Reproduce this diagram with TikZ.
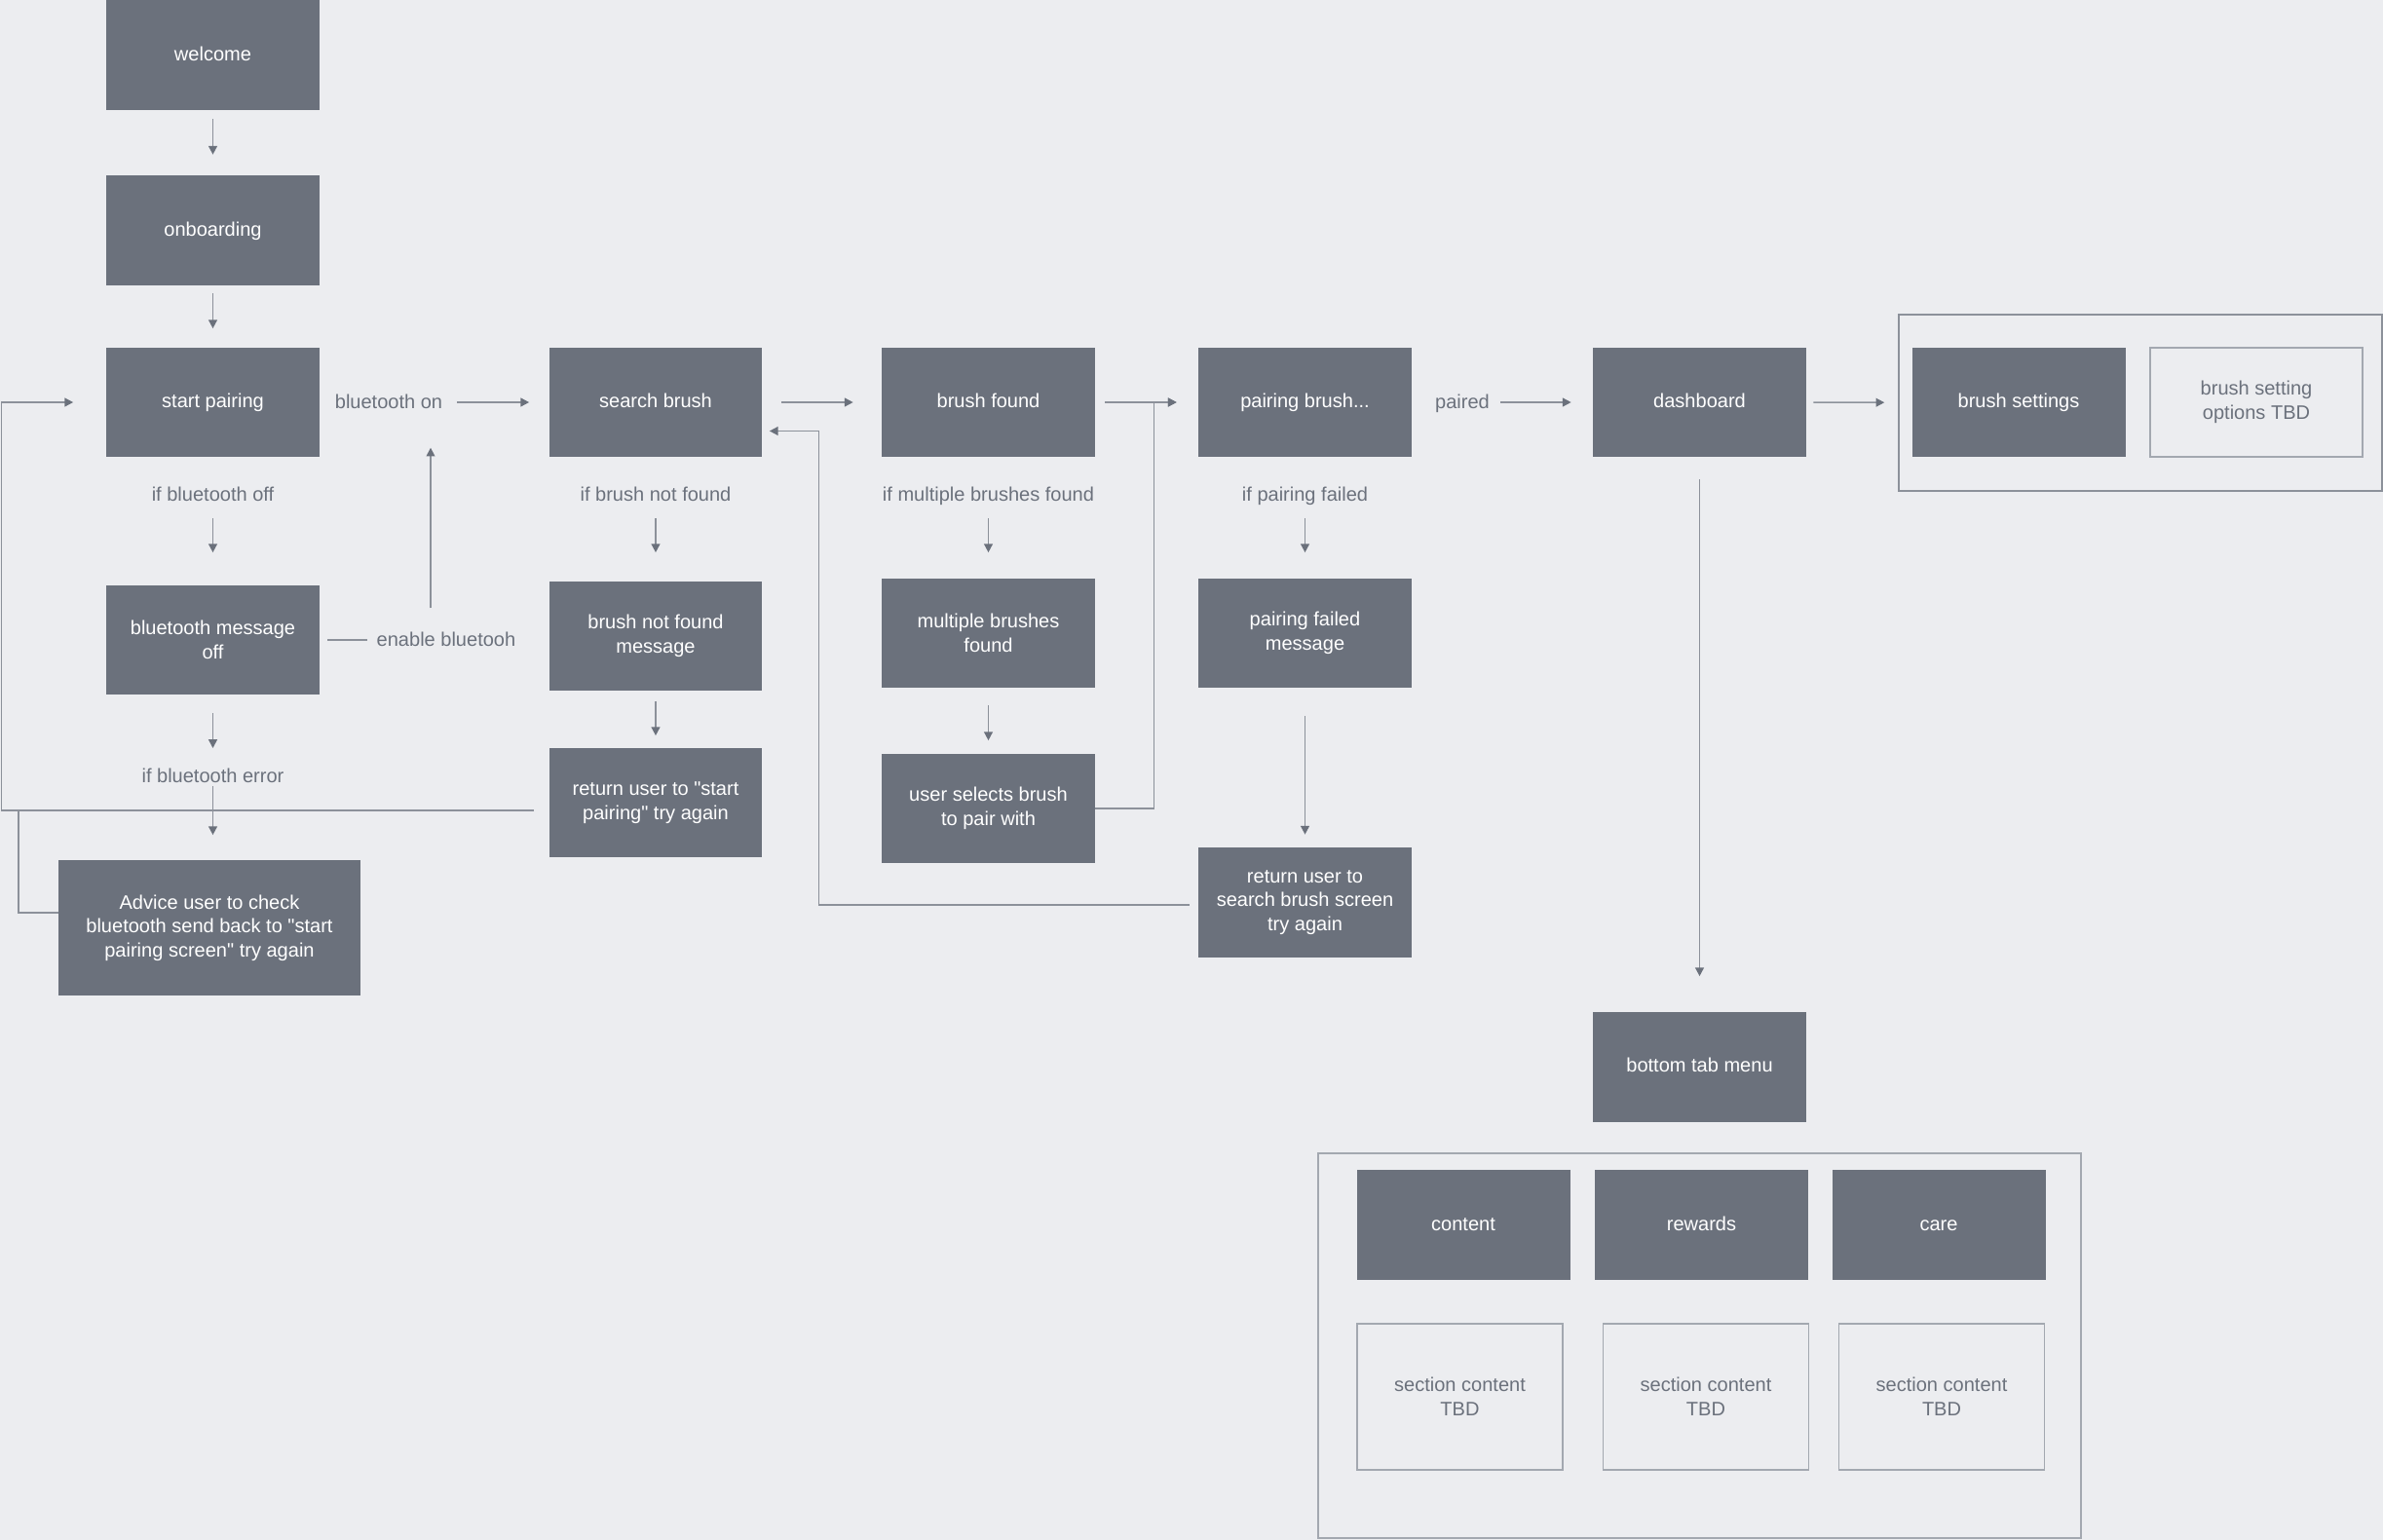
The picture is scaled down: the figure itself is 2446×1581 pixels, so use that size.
\documentclass[tikz,border=0pt]{standalone}
\usepackage{fontspec}
\setmainfont{Liberation Sans}
\usepackage{xcolor}
\usetikzlibrary{arrows.meta}
\definecolor{scrgray}{HTML}{6B717C}
\definecolor{bggray}{HTML}{ECEDF0}
\definecolor{linegray}{HTML}{8C919A}
\definecolor{outlinegray}{HTML}{A3A8B0}

\begin{document}
\begin{tikzpicture}[
    x=0.02cm, y=-0.02cm,
    font=\fontsize{11.4}{14}\selectfont,
    scr/.style={rectangle, fill=scrgray, text=white, minimum width=4.38cm, minimum height=2.26cm, align=center, inner sep=0pt},
    tline/.style={text height=0.85em, text depth=0.2em},
    tbd/.style={rectangle, draw=outlinegray, line width=0.8pt, text=scrgray, minimum width=4.22cm, minimum height=3cm, align=center, inner sep=0pt},
    lbl/.style={text=scrgray, inner sep=0pt, text height=0.75em, text depth=0.2em},
    grp/.style={rectangle, draw=outlinegray, line width=0.9pt},
    ln/.style={draw=linegray, line width=0.9pt},
    arr/.style={ln, -{Triangle[length=5pt, width=5pt, color=scrgray]}}
]
\fill[bggray] (0,0) rectangle (2446,1581);
\useasboundingbox (0,0) rectangle (2446,1581);

% main flow
\node[scr, tline] (welcome) at (218.5,56.5) {welcome};
\node[scr, tline] (onboard) at (218.5,236.5) {onboarding};
\node[scr, tline] (startp) at (218.5,413) {start pairing};
\node[scr, tline] (search) at (673,413) {search brush};
\node[scr, tline] (found) at (1014.5,413) {brush found};
\node[scr, tline] (pairing) at (1339.5,413) {pairing brush...};
\node[scr, tline] (dash) at (1744.5,413) {dashboard};

% settings group
\node[grp, draw=linegray, minimum width=9.92cm, minimum height=3.62cm] (setgroup) at (2197,413.5) {};
\node[scr, tline] (bsettings) at (2072,413) {brush settings};
\node[tbd, minimum width=4.36cm, minimum height=2.24cm] (bsoptions) at (2316,413) {brush setting\\options TBD};

% branches
\node[scr] (btoff) at (218.5,657) {bluetooth message\\off};
\node[scr, minimum width=6.2cm, minimum height=2.8cm] (advice) at (215,952.5) {Advice user to check\\bluetooth send back to \textquotedbl start\\pairing screen\textquotedbl{} try again};
\node[scr] (notfound) at (673,653) {brush not found\\message};
\node[scr] (retstart) at (673,824) {return user to \textquotedbl start\\pairing\textquotedbl{} try again};
\node[scr] (multi) at (1014.5,650) {multiple brushes\\found};
\node[scr] (select) at (1014.5,830) {user selects brush\\to pair with};
\node[scr] (failmsg) at (1339.5,650) {pairing failed\\message};
\node[scr] (retsearch) at (1339.5,926.5) {return user to\\search brush screen\\try again};

% tab menu
\node[scr, tline] (tabmenu) at (1744.5,1095) {bottom tab menu};
\node[grp, minimum width=15.66cm, minimum height=7.9cm] (tabgroup) at (1744.5,1381.5) {};
\node[scr, tline] (content) at (1502,1257.5) {content};
\node[scr, tline] (rewards) at (1746.5,1257.5) {rewards};
\node[scr, tline] (care) at (1990,1257.5) {care};
\node[tbd] (tbdcontent) at (1498.5,1434) {section content\\TBD};
\node[tbd] (tbdrewards) at (1751,1434) {section content\\TBD};
\node[tbd] (tbdcare) at (1993,1434) {section content\\TBD};

% labels
\node[lbl] (bton) at (399,415) {bluetooth on};
\node[lbl] (ifoff) at (218.5,510) {if bluetooth off};
\node[lbl] (enable) at (458,659) {enable bluetooh};
\node[lbl] (iferr) at (218.5,799) {if bluetooth error};
\node[lbl] (ifnf) at (673,510) {if brush not found};
\node[lbl] (ifmulti) at (1014.5,510) {if multiple brushes found};
\node[lbl] (iffail) at (1339.5,510) {if pairing failed};
\node[lbl] (paired) at (1501,415) {paired};

\coordinate (rail) at (19,832);

% connectors
\draw[arr, shorten <=0.18cm, shorten >=0.42cm] (welcome) -- (onboard);
\draw[arr, shorten <=0.16cm, shorten >=0.38cm] (onboard) -- (startp);
\draw[arr, shorten <=0.3cm, shorten >=0.4cm] (bton.east |- search.west) -- (search.west);
\draw[arr, shorten <=0.44cm, shorten >=0.66cm] (ifoff.center) -- (btoff);
\draw[ln, shorten <=0.16cm, shorten >=0.19cm] (btoff.east) -- (enable.west |- btoff.east);
\draw[arr, shorten <=0.52cm, shorten >=0.72cm] ([xshift=-0.32cm]enable.north) -- ([xshift=-0.32cm]enable.north |- bton.south);
\draw[arr, shorten <=0.37cm, shorten >=0.62cm] (btoff) -- (iferr.center);
\draw[arr, shorten <=0.16cm, shorten >=0.5cm] (iferr.center) -- (iferr.center |- advice.north);
\draw[arr, shorten <=0.3cm, shorten >=0.67cm] ([yshift=-0.16cm]retstart.west) -- ++(-561.5,0) |- (startp.west);
\draw[ln] ([yshift=0.31cm]advice.west) -| (rail);

\draw[arr, shorten <=0.44cm, shorten >=0.58cm] (ifnf.center) -- (notfound);
\draw[arr, shorten <=0.2cm, shorten >=0.24cm] (notfound) -- (retstart);
\draw[arr, shorten <=0.38cm, shorten >=0.58cm] (search) -- (found);
\draw[arr, shorten <=0.2cm, shorten >=0.44cm] (found) -- (pairing);
\draw[arr, shorten <=0.44cm, shorten >=0.52cm] (ifmulti.center) -- (multi);
\draw[arr, shorten <=0.34cm, shorten >=0.26cm] (multi) -- (select);
\draw[arr, shorten >=0.44cm] (select.east) -- ++(60,0) |- (pairing.west);
\draw[arr, shorten <=0.44cm, shorten >=0.52cm] (iffail.center) -- (failmsg);
\draw[arr, shorten <=0.56cm, shorten >=0.26cm] (failmsg) -- (retsearch);
\draw[arr, shorten <=0.18cm, shorten >=0.14cm] ([yshift=-0.05cm]retsearch.west) -- ++(-389,0) |- ([yshift=-0.59cm]search.east);

\draw[arr, shorten <=0.78cm, shorten >=0.44cm] (paired.center |- dash.west) -- (dash);
\draw[arr, shorten <=0.14cm, shorten >=0.28cm] (dash) -- (setgroup);
\draw[arr, shorten <=0.44cm, shorten >=0.72cm] (dash) -- (tabmenu);
\end{tikzpicture}
\end{document}
